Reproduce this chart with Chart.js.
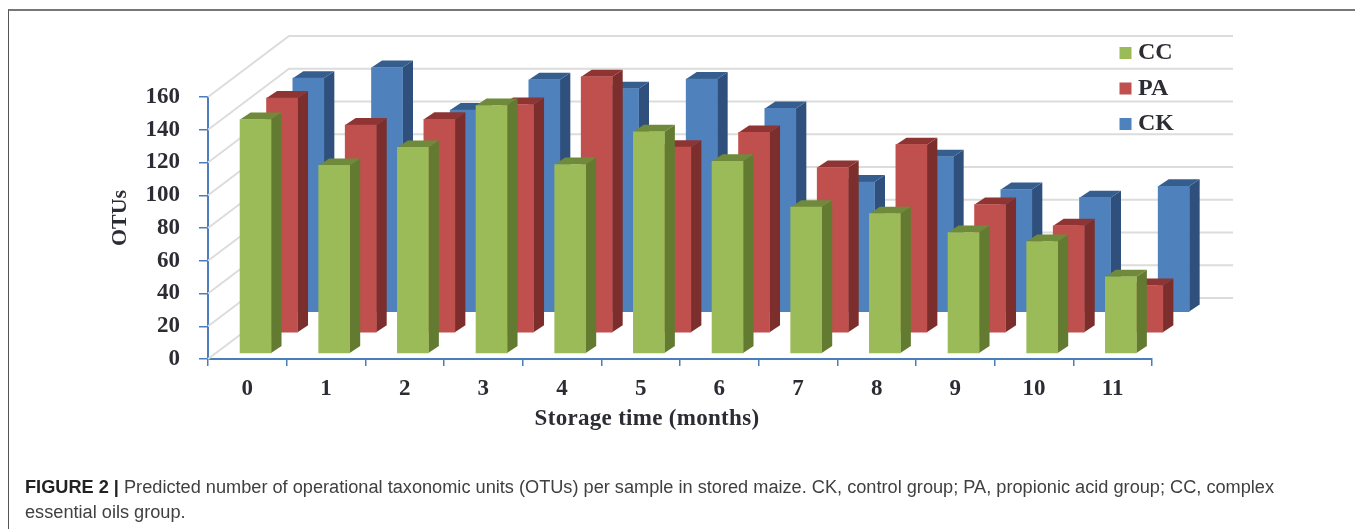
<!DOCTYPE html>
<html>
<head>
<meta charset="utf-8">
<title>OTUs in stored maize</title>
<script src="https://cdn.jsdelivr.net/npm/chart.js@4"></script>
<style>
  html, body { margin: 0; padding: 0; background: #fff; overflow: hidden; }
  #wrap { position: relative; width: 1355px; height: 529px; }
  #frame { position: absolute; left: 8px; top: 9px; right: 0; bottom: 0; border-left: 1.5px solid #555; border-top: 2px solid #777; }
  canvas { position: absolute; left: 0; top: 0; }
  #caption { position: absolute; left: 25px; top: 475px; font: 18.18px/25px "Liberation Sans", sans-serif; color: #404040; white-space: nowrap; }
  #caption b { color: #222; }
</style>
</head>
<body>
<div id="wrap">
  <div id="frame"></div>
  <canvas id="chart" width="1355" height="529"></canvas>
  <div id="caption"><b>FIGURE 2 |</b> Predicted number of operational taxonomic units (OTUs) per sample in stored maize. CK, control group; PA, propionic acid group; CC, complex<br>essential oils group.</div>
</div>
<script>
var months = ['0', '1', '2', '3', '4', '5', '6', '7', '8', '9', '10', '11'];
var cc = [143, 115, 126, 151.5, 115.5, 135.5, 117.5, 89.5, 85.5, 74, 68.5, 47];
var pa = [143.5, 127, 130.5, 139.5, 156.5, 113.5, 122.5, 101, 115, 78.5, 65.5, 29];
var ck = [143, 149.5, 123.5, 142, 136.5, 142.5, 124.5, 79.5, 95, 75, 70, 77];

var serif = '"Liberation Serif", serif';
var textColor = '#2c2c34';
var axisBlue = '#4a7ebb';

// front colour, side colour, top colour, how far the row sits back
var looks = [
  { front: '#9bbb59', side: '#637a31', top: '#6f8a3b', dx: 8.2, dy: -5.3 },
  { front: '#c0504d', side: '#7b2e2c', top: '#8e3432', dx: 34.7, dy: -26 },
  { front: '#4f81bd', side: '#2f507c', top: '#355e8f', dx: 61, dy: -46.7 }
];
var sideX = 10.5, sideY = -7;
var wallX = 81, wallY = -61;

function poly(ctx, pts, color) {
  ctx.fillStyle = color;
  ctx.beginPath();
  ctx.moveTo(pts[0][0], pts[0][1]);
  for (var i = 1; i < pts.length; i++) ctx.lineTo(pts[i][0], pts[i][1]);
  ctx.closePath();
  ctx.fill();
}

var walls = {
  id: 'walls',
  beforeDraw: function (chart) {
    // the y labels sit a little low in the reference
    chart.scales.y.getLabelItems().forEach(function (item) {
      item.options.textOffset += 2;
    });
  },
  beforeDatasetsDraw: function (chart) {
    var ctx = chart.ctx, y = chart.scales.y, area = chart.chartArea;
    ctx.save();
    ctx.strokeStyle = '#dcdcdc';
    ctx.lineWidth = 2;
    y.ticks.forEach(function (t) {
      var py = y.getPixelForValue(t.value);
      ctx.beginPath();
      ctx.moveTo(area.left, py);
      ctx.lineTo(area.left + wallX, py + wallY);
      ctx.lineTo(area.right + wallX, py + wallY);
      ctx.stroke();
    });
    ctx.restore();
  }
};

var depth = {
  id: 'depth',
  beforeDatasetDraw: function (chart, args) {
    var ctx = chart.ctx, look = looks[args.index];
    ctx.save();
    ctx.translate(look.dx, look.dy);
    args.meta.data.forEach(function (bar) {
      var l = bar.x - bar.width / 2, r = bar.x + bar.width / 2;
      poly(ctx, [[r, bar.y], [r + sideX, bar.y + sideY], [r + sideX, bar.base + sideY], [r, bar.base]], look.side);
      poly(ctx, [[l, bar.y], [l + sideX, bar.y + sideY], [r + sideX, bar.y + sideY], [r, bar.y]], look.top);
    });
  },
  afterDatasetDraw: function (chart) {
    chart.ctx.restore();
  }
};

var labels3d = {
  id: 'labels3d',
  afterDraw: function (chart) {
    var ctx = chart.ctx;
    ctx.save();
    ctx.fillStyle = textColor;
    ctx.textBaseline = 'middle';
    ctx.textAlign = 'center';
    ctx.font = 'bold 23px ' + serif;
    ctx.letterSpacing = '0.3px';
    ctx.fillText('Storage time (months)', 647, 419);
    ctx.save();
    ctx.translate(120, 218);
    ctx.rotate(-Math.PI / 2);
    ctx.font = 'bold 22px ' + serif;
    ctx.letterSpacing = '0px';
    ctx.fillText('OTUs', 0, 0);
    ctx.restore();
    // legend
    ctx.textAlign = 'left';
    ctx.font = 'bold 24px ' + serif;
    ctx.letterSpacing = '0px';
    var rows = [53, 88.5, 124];
    chart.data.datasets.forEach(function (ds, i) {
      ctx.fillStyle = looks[i].front;
      ctx.fillRect(1119.5, rows[i] - 6, 12, 12);
      ctx.fillStyle = textColor;
      ctx.fillText(ds.label, 1138, rows[i]);
    });
    ctx.restore();
  }
};

new Chart(document.getElementById('chart'), {
  type: 'bar',
  data: {
    labels: months,
    datasets: [
      { label: 'CC', data: cc, backgroundColor: looks[0].front },
      { label: 'PA', data: pa, backgroundColor: looks[1].front },
      { label: 'CK', data: ck, backgroundColor: looks[2].front }
    ]
  },
  options: {
    responsive: false,
    animation: false,
    layout: { padding: { left: 100, top: 97, right: 203, bottom: 99 } },
    datasets: { bar: { grouped: false, barThickness: 31, clip: false } },
    plugins: { legend: { display: false }, tooltip: { enabled: false } },
    scales: {
      x: {
        afterFit: function (s) { s.height = 71; },
        grid: { drawOnChartArea: false, tickColor: axisBlue, tickLength: 7, lineWidth: 1.5 },
        border: { color: axisBlue, width: 2 },
        ticks: { color: textColor, font: { family: serif, size: 23, weight: 'bold' }, padding: 9, maxRotation: 0 }
      },
      y: {
        min: 0,
        max: 160,
        afterFit: function (s) { s.width = 108; },
        grid: { drawOnChartArea: false, tickColor: axisBlue, tickLength: 9, lineWidth: 1.5 },
        border: { color: axisBlue, width: 2 },
        ticks: { stepSize: 20, color: textColor, font: { family: serif, size: 23, weight: 'bold' }, padding: 19 }
      }
    }
  },
  plugins: [walls, depth, labels3d]
});
</script>
</body>
</html>
